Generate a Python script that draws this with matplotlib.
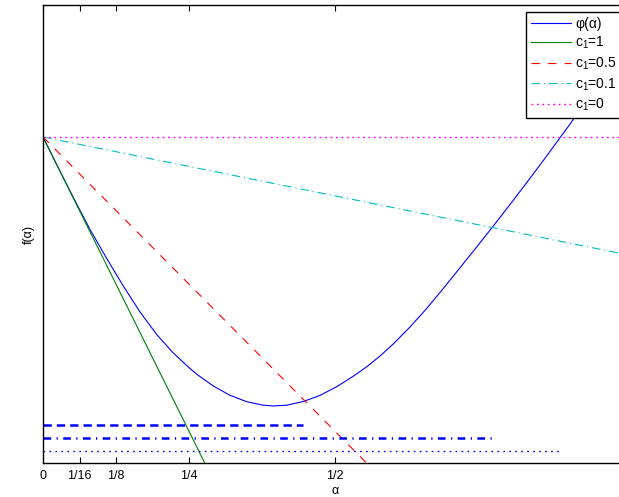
import numpy as np
import matplotlib
matplotlib.use('Agg')
import matplotlib.pyplot as plt

plt.rcParams['font.family'] = ['Liberation Sans', 'DejaVu Sans']
plt.rcParams['mathtext.fontset'] = 'custom'
plt.rcParams['mathtext.rm'] = 'Liberation Sans'
plt.rcParams['mathtext.it'] = 'Liberation Sans'
plt.rcParams['font.size'] = 9
plt.rcParams['lines.scale_dashes'] = False

# phi(alpha)
alpha_pts = [0.0, 0.0257, 0.0519, 0.0805, 0.1091, 0.1375, 0.1661, 0.1947,
             0.2231, 0.2517, 0.2632, 0.2916, 0.3202, 0.3488, 0.3772, 0.3943,
             0.4173, 0.4457, 0.4743, 0.5029, 0.5313, 0.5543, 0.5771, 0.5998,
             0.6284, 0.657, 0.6854, 0.714, 0.7426, 0.7711, 0.7997, 0.831,
             0.8567, 0.9007, 0.95]
phi_pts = [3.26, 2.958, 2.655, 2.335, 2.045, 1.77, 1.51, 1.285,
           1.10, 0.945, 0.888, 0.77, 0.677, 0.613, 0.578, 0.570,
           0.578, 0.615, 0.676, 0.763, 0.868, 0.962, 1.07, 1.19,
           1.36, 1.545, 1.745, 1.952, 2.16, 2.37, 2.585, 2.825,
           3.025, 3.375, 3.78]

phi0 = 3.26
dphi0 = -11.77
c1_vals = [1, 0.5, 0.1, 0]
c1_colors = [(0, 0.5, 0), (1, 0, 0), (0, 0.75, 0.75), (1, 0, 1)]
c1_dashes = [None, (6, 6), (6.2, 2.8, 0.8, 2.8), (1.3, 2.6)]
c1_widths = [0.8, 0.8, 0.8, 1.0]

# acceptable step intervals (c1=0.5, 0.1, 0)
interval_ends = [0.445, 0.769, 0.885]
interval_levels = [0.38, 0.25, 0.12]
interval_dashes = [(6, 3.6), (5.5, 3.9, 0.9, 3.9), (1.2, 3.1)]
interval_widths = [1.8, 1.8, 1.0]

tick_pos = [0, 1/16, 1/8, 1/4, 1/2]
tick_lbl = ['0', '1/16', '1/8', '1/4', '1/2']

fig = plt.figure(figsize=(6.19, 4.97), dpi=100)
ax = fig.add_axes([43/619, 34/497, 584/619, 458/497])

ax.plot(alpha_pts, phi_pts, color='b', lw=0.8, label='φ(α)')
a_line = np.array([0.0, 1.0])
for c1, col, dsh, w in zip(c1_vals, c1_colors, c1_dashes, c1_widths):
    ln, = ax.plot(a_line, phi0 + c1 * dphi0 * a_line, color=col, lw=w,
                  label=f'c$_1$={c1}')
    if dsh is not None:
        ln.set_dashes(dsh)

for end, lev, dsh, w in zip(interval_ends, interval_levels, interval_dashes, interval_widths):
    ln, = ax.plot([0, end], [lev, lev], color='b', lw=w)
    ln.set_dashes(dsh)

ax.set_xlim(0, 1)
ax.set_ylim(0, 4.58)
ax.set_xticks(tick_pos)
ax.set_xticklabels(tick_lbl)
ax.set_yticks([])
ax.tick_params(axis='x', direction='in', top=True, length=4, width=0.8, pad=5)
for s in ax.spines.values():
    s.set_linewidth(1.0)
ax.set_xlabel('α', labelpad=2)
ax.set_ylabel('f(α)', labelpad=6)

leg = ax.legend(loc='upper left', bbox_to_anchor=(526/619, 1 - 12/497),
                bbox_transform=fig.transFigure, fancybox=False, framealpha=1,
                edgecolor='k', handlelength=2.9, handletextpad=0.3,
                labelspacing=0.3, borderpad=0.35, borderaxespad=0,
                fontsize=10)
leg.get_frame().set_linewidth(1.0)

fig.savefig('out.png', dpi=100)
